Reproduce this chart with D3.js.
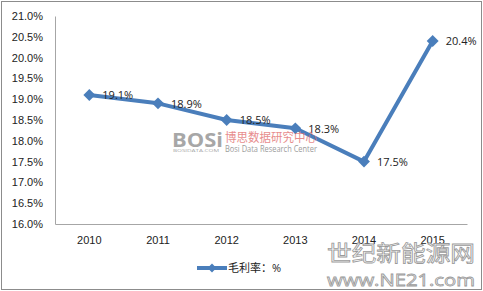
<!DOCTYPE html>
<html>
<head>
<meta charset="utf-8">
<script src="https://cdn.jsdelivr.net/npm/d3@7"></script>
<style>
  body { margin: 0; background: #fff; }
  svg { display: block; font-family: "Open Sans", "Noto Sans CJK SC", sans-serif; }
</style>
</head>
<body>
<div class="chart"></div>
<script>
const FRAME_WIDTH = 483;
const FRAME_HEIGHT = 291;
const MARGINS = {left: 55, right: 16, top: 16, bottom: 67};

const years = ["2010", "2011", "2012", "2013", "2014", "2015"];
const margin_rate = [19.1, 18.9, 18.5, 18.3, 17.5, 20.4];
const y_ticks = [16.0, 16.5, 17.0, 17.5, 18.0, 18.5, 19.0, 19.5, 20.0, 20.5, 21.0];
const series_name = "毛利率：%";

const PLOT_WIDTH = FRAME_WIDTH - MARGINS.left - MARGINS.right;
const PLOT_HEIGHT = FRAME_HEIGHT - MARGINS.top - MARGINS.bottom;
const LINE_COLOR = "#4a7ebb";

const FRAME = d3.select(".chart")
                .append("svg")
                .attr("width", FRAME_WIDTH)
                .attr("height", FRAME_HEIGHT);

// outer chart border
FRAME.append("rect")
    .attr("x", 1.5).attr("y", 1.5)
    .attr("width", FRAME_WIDTH - 3).attr("height", FRAME_HEIGHT - 3)
    .attr("fill", "#fff")
    .attr("stroke", "#8c8c8c");

const X_SCALE = d3.scaleBand()
                  .domain(years)
                  .range([0, PLOT_WIDTH]);

const Y_SCALE = d3.scaleLinear()
                  .domain([16, 21])
                  .range([PLOT_HEIGHT, 0]);

const PLOT = FRAME.append("g")
    .attr("transform", "translate(" + MARGINS.left + "," + MARGINS.top + ")");

// axes
const xAxis = PLOT.append("g")
    .attr("transform", "translate(0," + PLOT_HEIGHT + ")")
    .call(d3.axisBottom(X_SCALE).tickSize(0).tickPadding(12));
xAxis.select(".domain").attr("stroke", "#a6a6a6");
xAxis.selectAll("text").attr("font-size", "11px").attr("fill", "#222");

const yAxis = PLOT.append("g")
    .call(d3.axisLeft(Y_SCALE).tickValues(y_ticks).tickSize(0).tickPadding(12)
            .tickFormat((d) => d.toFixed(1) + "%"));
yAxis.select(".domain").attr("stroke", "#a6a6a6");
yAxis.selectAll("text").attr("font-size", "11px").attr("fill", "#222");

// watermark (Bosi)
const WM = FRAME.append("g").attr("opacity", 0.75);
WM.append("text").attr("x", 172).attr("y", 147)
    .attr("font-size", "20px").attr("font-weight", "bold")
    .attr("fill", "#8a8a8a")
    .attr("textLength", 51).attr("lengthAdjust", "spacingAndGlyphs")
    .text("BOSi");
WM.append("text").attr("x", 173).attr("y", 152)
    .attr("font-size", "4px").attr("fill", "#8a8a8a")
    .attr("textLength", 46).attr("lengthAdjust", "spacingAndGlyphs")
    .text("BOSIDATA.COM");
WM.append("text").attr("x", 225).attr("y", 142)
    .attr("font-size", "12px").attr("fill", "#e06666")
    .attr("textLength", 92).attr("lengthAdjust", "spacingAndGlyphs")
    .text("博思数据研究中心");
WM.append("text").attr("x", 225).attr("y", 152)
    .attr("font-size", "9.5px").attr("fill", "#7a7a7a")
    .attr("textLength", 92).attr("lengthAdjust", "spacingAndGlyphs")
    .text("Bosi Data Research Center");

// line series
const line = d3.line()
    .x((d, i) => X_SCALE(years[i]) + X_SCALE.bandwidth() / 2)
    .y((d) => Y_SCALE(d));

PLOT.append("path")
    .datum(margin_rate)
    .attr("d", line)
    .attr("fill", "none")
    .attr("stroke", LINE_COLOR)
    .attr("stroke-width", 4)
    .attr("stroke-linejoin", "round");

PLOT.selectAll(".marker")
    .data(margin_rate)
    .enter()
    .append("path")
        .attr("class", "marker")
        .attr("d", d3.symbol().type(d3.symbolDiamond2).size(90))
        .attr("transform", (d, i) => "translate(" + (X_SCALE(years[i]) + X_SCALE.bandwidth() / 2) + "," + Y_SCALE(d) + ")")
        .attr("fill", LINE_COLOR);

PLOT.selectAll(".label")
    .data(margin_rate)
    .enter()
    .append("text")
        .attr("class", "label")
        .attr("x", (d, i) => X_SCALE(years[i]) + X_SCALE.bandwidth() / 2 + 13)
        .attr("y", (d) => Y_SCALE(d))
        .attr("dy", "0.38em")
        .attr("font-size", "11px")
        .attr("fill", "#222")
        .text((d) => d.toFixed(1) + "%");

// legend
const LEGEND = FRAME.append("g").attr("transform", "translate(197,268)");
LEGEND.append("line")
    .attr("x1", 0).attr("x2", 30)
    .attr("stroke", LINE_COLOR).attr("stroke-width", 4);
LEGEND.append("path")
    .attr("d", d3.symbol().type(d3.symbolDiamond2).size(50))
    .attr("transform", "translate(15,0)")
    .attr("fill", LINE_COLOR);
LEGEND.append("text")
    .attr("x", 31).attr("dy", "0.38em")
    .attr("font-size", "11px").attr("fill", "#222")
    .text(series_name);

// watermark (NE21)
const WM2 = FRAME.append("g").attr("fill", "#fff").attr("stroke", "#9a9a9a").attr("stroke-width", 0.8);
WM2.append("text").attr("x", 327).attr("y", 261)
    .attr("font-size", "22px")
    .attr("textLength", 148).attr("lengthAdjust", "spacingAndGlyphs")
    .text("世纪新能源网");
WM2.append("text").attr("x", 327).attr("y", 286)
    .attr("font-size", "17px")
    .attr("textLength", 148).attr("lengthAdjust", "spacingAndGlyphs")
    .text("www.NE21.com");
</script>
</body>
</html>
